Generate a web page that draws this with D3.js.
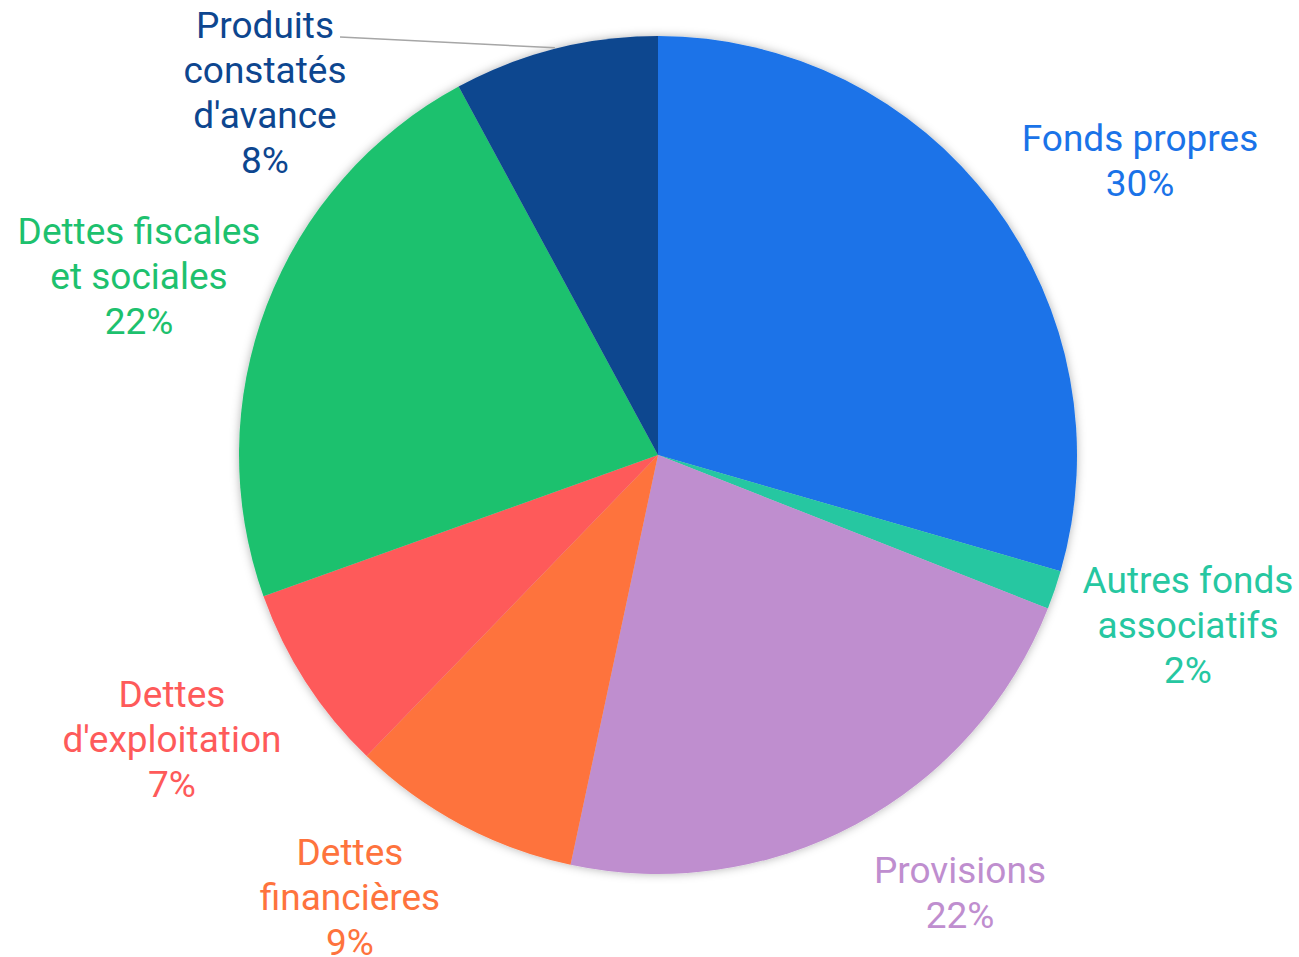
<!DOCTYPE html>
<html lang="fr">
<head>
<meta charset="utf-8">
<title>Passif</title>
<style>
body { margin: 0; background: #fff; }
svg { font-family: Roboto, "DejaVu Sans", sans-serif; }
</style>
</head>
<body>
<svg width="1299" height="957"></svg>
<script src="https://cdn.jsdelivr.net/npm/d3@7"></script>
<script>
// data, clockwise from 12 o'clock
const categories = ["Fonds propres", "Autres fonds associatifs", "Provisions", "Dettes financières",
                    "Dettes d'exploitation", "Dettes fiscales et sociales", "Produits constatés d'avance"];
const values = [29.5, 1.5, 22.4, 8.9, 7.3, 22.6, 7.9];
const pctLabels = ["30%", "2%", "22%", "9%", "7%", "22%", "8%"];
const labelLines = [
  ["Fonds propres"],
  ["Autres fonds", "associatifs"],
  ["Provisions"],
  ["Dettes", "financières"],
  ["Dettes", "d'exploitation"],
  ["Dettes fiscales", "et sociales"],
  ["Produits", "constatés", "d'avance"]
];
const colors = ["#1a73e8", "#26c7a1", "#bf8ecf", "#fe733d", "#fe5a5a", "#1dc16e", "#0d468f"];

// layout: label center x, first baseline y
const labelPos = [[1140, 151], [1188, 593], [960, 883], [350, 865], [172, 707], [139, 244], [265, 38]];

const cx = 658, cy = 455, r = 419, lineH = 45;

const svg = d3.select("svg");
const defs = svg.append("defs");
const f = defs.append("filter").attr("id", "shadow")
    .attr("x", "-10%").attr("y", "-10%").attr("width", "120%").attr("height", "120%");
f.append("feDropShadow").attr("dx", 0).attr("dy", 0).attr("stdDeviation", 5)
    .attr("flood-color", "#000").attr("flood-opacity", 0.3);

const pie = d3.pie().sort(null).value(d => d);
const arc = d3.arc().innerRadius(0).outerRadius(r);
const arcs = pie(values);

const g = svg.append("g").attr("transform", `translate(${cx},${cy})`);
g.append("g").attr("filter", "url(#shadow)")
  .selectAll("path")
  .data(arcs)
  .join("path")
    .attr("d", arc)
    .attr("fill", (d, i) => colors[i]);

// leader line for the last slice
const last = arcs[6];
const leadAng = last.startAngle + (last.endAngle - last.startAngle) * 0.5;
svg.append("line")
    .attr("x1", 340).attr("y1", 37)
    .attr("x2", cx + Math.sin(leadAng) * (r + 1))
    .attr("y2", cy - Math.cos(leadAng) * (r + 1))
    .attr("stroke", "#a6a6a6").attr("stroke-width", 1.5);

const labels = svg.append("g").selectAll("text")
  .data(categories)
  .join("text")
    .attr("text-anchor", "middle")
    .attr("font-size", 37)
    .attr("fill", (d, i) => colors[i]);

labels.each(function(d, i) {
  const t = d3.select(this);
  const lines = labelLines[i].concat([pctLabels[i]]);
  lines.forEach((s, k) => {
    t.append("tspan")
      .attr("x", labelPos[i][0])
      .attr("y", labelPos[i][1] + k * lineH)
      .text(s);
  });
});
</script>
</body>
</html>
